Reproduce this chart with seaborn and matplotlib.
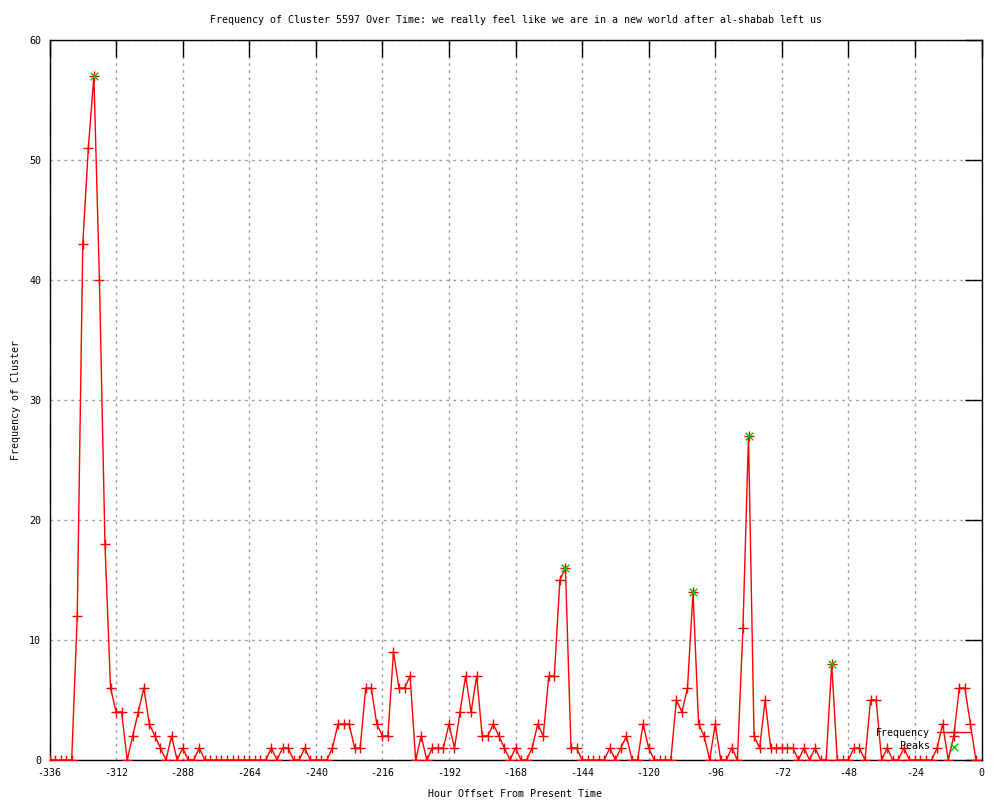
import numpy as np
import pandas as pd
import matplotlib
matplotlib.use("Agg")
import matplotlib.pyplot as plt
import seaborn as sns

# hourly offsets (every 2 hours) and cluster frequency
hours = np.arange(-336, 0, 2)
freq = [
    0, 0, 0, 0, 0, 12, 43, 51, 57, 40, 18, 6, 4, 4, 0, 2, 4, 6, 3, 2,   # -336 .. -298
    1, 0, 2, 0, 1, 0, 0, 1, 0,                                          # -296 .. -280
    0, 0, 0, 0, 0, 0, 0, 0, 0, 0, 0,                                    # -278 .. -258
    1, 0, 1, 1, 0, 0, 1, 0, 0, 0, 0, 1, 3, 3, 3, 1, 1, 6, 6, 3,         # -256 .. -218
    2, 2, 9, 6, 6, 7, 0, 2, 0, 1, 1, 1, 3, 1, 4, 7, 4, 7, 2, 2,         # -216 .. -178
    3, 2, 1, 0, 1, 0, 0, 1, 3, 2, 7, 7, 15, 16, 1, 1, 0, 0, 0, 0,       # -176 .. -138
    0, 1, 0, 1, 2, 0, 0, 3, 1, 0, 0, 0, 0, 5, 4, 6, 14, 3, 2, 0,        # -136 .. -98
    3, 0, 0, 1, 0, 11, 27, 2, 1, 5, 1, 1, 1, 1, 1, 0, 1, 0, 1, 0,       # -96 .. -58
    0, 8, 0, 0, 0, 1, 1, 0, 5, 5, 0, 1, 0, 0, 1, 0, 0, 0, 0, 0,         # -56 .. -18
    1, 3, 0, 2, 6, 6, 3, 0,                                             # -16 .. -2
]
peak_hours = [-320, -150, -104, -84, -54]
peak_freq = [57, 16, 14, 27, 8]

df = pd.DataFrame({"hour": hours, "freq": freq})
peaks = pd.DataFrame({"hour": peak_hours, "freq": peak_freq})

sns.set_style("white")
plt.rcParams["font.family"] = ["DejaVu Sans Mono"]
plt.rcParams["font.size"] = 7.2
plt.rcParams["axes.unicode_minus"] = False
plt.rcParams["text.color"] = "black"
plt.rcParams["axes.labelcolor"] = "black"
plt.rcParams["xtick.color"] = "black"
plt.rcParams["ytick.color"] = "black"

fig = plt.figure(figsize=(10, 8), dpi=100)
ax = fig.add_axes([0.0495, 0.05, 0.932, 0.90])

sns.lineplot(data=df, x="hour", y="freq", ax=ax, color="red", lw=1,
             marker="+", markersize=7, mec="red", mew=1, estimator=None,
             label="Frequency", zorder=3)
sns.scatterplot(data=peaks, x="hour", y="freq", ax=ax, color="#00c000",
                marker="x", s=30, linewidth=1, label="Peaks", zorder=4)

ax.set_xlim(-336, 0)
ax.set_ylim(0, 60)
ax.set_xticks(np.arange(-336, 1, 24))
ax.set_yticks(np.arange(0, 61, 10))

ax.grid(True, color="#a0a0a0", linestyle=(0, (2, 3)), lw=1)
for s in ax.spines.values():
    s.set_color("black")
    s.set_linewidth(1)
ax.tick_params(direction="in", length=12, width=1, color="black",
               labelcolor="black", top=True, right=True, labelsize=7.2, pad=6)

ax.set_title("Frequency of Cluster 5597 Over Time: we really feel like we are in a new world after al-shabab left us",
             fontsize=7.2, pad=12, color="black")
ax.set_xlabel("Hour Offset From Present Time", fontsize=7.2, labelpad=8)
ax.set_ylabel("Frequency of Cluster", fontsize=7.2, labelpad=6)

leg = ax.legend(loc="lower right", bbox_to_anchor=(0.988, 0.012), frameon=False,
                markerfirst=False, handlelength=3.3, handletextpad=0.7,
                labelspacing=0.35, borderaxespad=0, borderpad=0, fontsize=7.2)
for t in leg.get_texts():
    t.set_color("black")

fig.savefig("out.png", dpi=100)
